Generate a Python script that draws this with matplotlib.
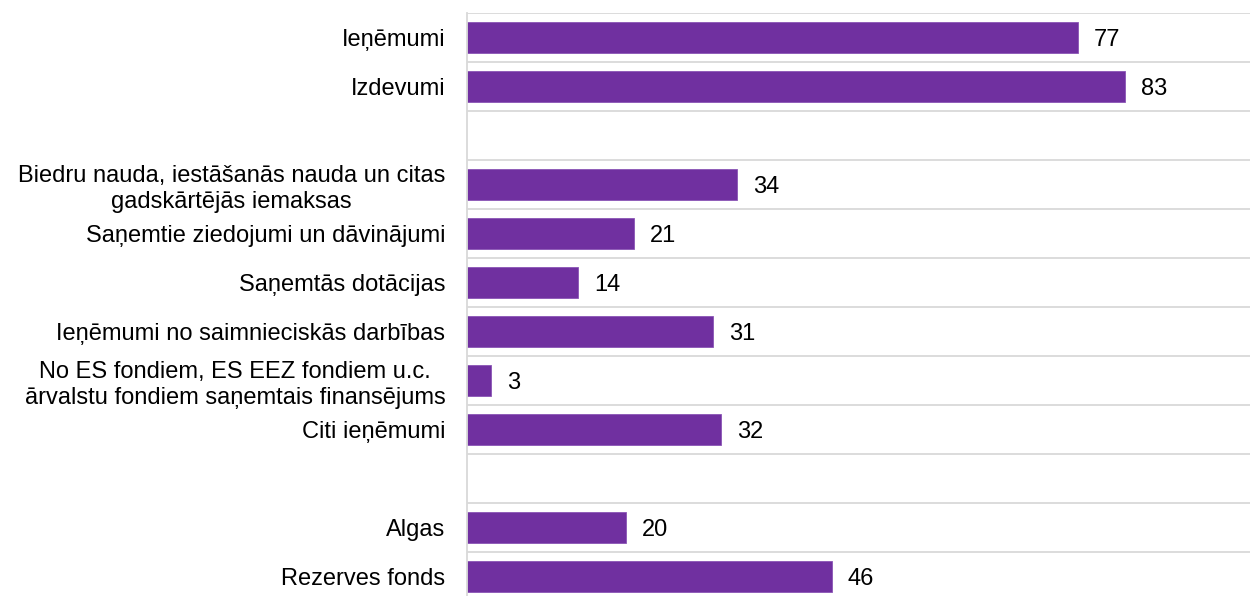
import numpy as np
import matplotlib
matplotlib.use("Agg")
import matplotlib.pyplot as plt

plt.rcParams['font.family'] = ['Liberation Sans', 'DejaVu Sans']

categories = [
    "Ieņēmumi",
    "Izdevumi",
    "",
    "Biedru nauda, iestāšanās nauda un citas\ngadskārtējās iemaksas",
    "Saņemtie ziedojumi un dāvinājumi",
    "Saņemtās dotācijas",
    "Ieņēmumi no saimnieciskās darbības",
    "No ES fondiem, ES EEZ fondiem u.c.\nārvalstu fondiem saņemtais finansējums",
    "Citi ieņēmumi",
    "",
    "Algas",
    "Rezerves fonds",
]
values = [77, 83, np.nan, 34, 21, 14, 31, 3, 32, np.nan, 20, 46]

BAR_COLOR = "#7030a0"
GRID_COLOR = "#d9d9d9"
FS = 17

fig = plt.figure(figsize=(12.5, 5.96), dpi=100)
ax = fig.add_axes([467 / 1250, 1 - 601 / 596, 1 - 467 / 1250, (601 - 13) / 596])

y = np.arange(len(categories))
ax.barh(y, values, height=0.65, color=BAR_COLOR, edgecolor="#8a55b5", linewidth=0.6)

for yi, v in zip(y, values):
    if np.isnan(v):
        continue
    ax.annotate(f"{v:g}", xy=(v, yi), xytext=(11.5, 0), textcoords="offset points",
                ha="left", va="center_baseline", fontsize=FS, color="black")

ax.set_xlim(0, 98.7)
ax.set_ylim(len(categories) - 0.5, -0.5)

ax.set_yticks(y)
ax.set_yticklabels(categories, fontsize=FS)
for lab in ax.get_yticklabels():
    lab.set_multialignment("center")
    lab.set_linespacing(1.25)
ax.tick_params(axis="y", length=0, pad=15.5)
ax.set_xticks([])

ax.set_yticks(np.arange(-0.5, len(categories) + 0.5, 1), minor=True)
ax.tick_params(axis="y", which="minor", length=0)
ax.grid(axis="y", which="minor", color=GRID_COLOR, linewidth=1.3)
ax.set_axisbelow(True)

for side in ["top", "right", "bottom"]:
    ax.spines[side].set_visible(False)
ax.spines["left"].set_color(GRID_COLOR)
ax.spines["left"].set_linewidth(1.3)

fig.savefig("out.png", dpi=100)
